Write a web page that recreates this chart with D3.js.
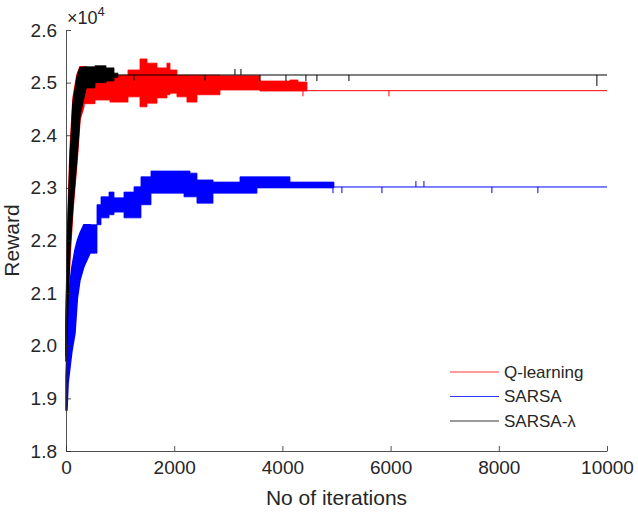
<!DOCTYPE html>
<html>
<head>
<meta charset="utf-8">
<script src="https://cdn.jsdelivr.net/npm/d3@7"></script>
<style>
  body { margin: 0; background: #fff; }
  svg { font-family: Arial, "Liberation Sans", sans-serif; }
</style>
</head>
<body>
<svg id="chart" width="638" height="515"></svg>
<script>
// x ticks and y ticks
const xTicks = [0, 2000, 4000, 6000, 8000, 10000];
const yTicks = [18000, 19000, 20000, 21000, 22000, 23000, 24000, 25000, 26000];

// rising part of each run: [iteration, high, low]
const qRise = [[0, 20600, 19800], [37, 22500, 20800], [74, 23700, 21700], [129, 24700, 22600], [203, 25150, 23500], [259, 25300, 24300], [330, 25300, 24550]];
const sarsaRise = [[0, 19400, 18780], [18, 19920, 18780], [40, 20700, 19300], [74, 21190, 19600], [110, 21500, 19900], [166, 21820, 20240],
  [210, 22000, 20900], [259, 22140, 21250], [330, 22300, 21500], [444, 22300, 21760]];
const lambdaRise = [[0, 20400, 19700], [37, 22300, 20900], [74, 23500, 21900], [129, 24600, 22700], [203, 25100, 23600], [259, 25280, 24400], [370, 25300, 24900]];

// oscillating band: [iteration, high, low] held until next entry
const qBand = [[330, 25280, 24600], [536, 25240, 24670], [813, 25140, 24630], [1146, 25240, 24730], [1368, 25450, 24540], [1497, 25370, 24610],
  [1682, 25280, 24710], [1866, 25370, 24770], [1922, 25240, 24800], [2051, 25140, 24730], [2236, 25140, 24630], [2421, 25140, 24770],
  [2846, 25130, 24860], [3585, 25030, 24840], [4140, 25050, 24840], [4287, 25010, 24840], [4454, 25010, 24840]];
const sarsaBand = [[444, 22300, 21760], [573, 22680, 22300], [647, 22830, 22430], [795, 22920, 22490], [887, 22810, 22540], [1072, 22920, 22430],
  [1257, 23020, 22430], [1386, 23210, 22680], [1571, 23320, 22900], [2181, 23320, 22830], [2292, 23280, 22830], [2421, 23150, 22710],
  [2717, 23110, 22900], [3216, 23210, 22900], [3530, 23210, 23000], [4140, 23110, 23000], [4953, 23110, 23000]];
const lambdaBand = [[370, 25300, 24900], [536, 25320, 25000], [740, 25280, 25030], [887, 25180, 25100], [960, 25180, 25100]];

// settled value and where it starts
const qFinal = [4454, 24847];
const sarsaFinal = [4953, 23017];
const lambdaFinal = [887, 25145];

// single spikes off the settled line: [iteration, value]
const qSpikes = [[4380, 24740], [5970, 24740]];
const sarsaSpikes = [[4935, 22900], [5100, 22900], [5840, 22900], [7872, 22900], [8722, 22900], [6468, 23130], [6616, 23130]];
const lambdaSpikes = [[1257, 25040], [2569, 25040], [3123, 25260], [3234, 25260], [3585, 25030], [4066, 25030], [4435, 25030], [4638, 25030], [5230, 25030], [9813, 24936]];

const series = [
  { name: "Q-learning", color: "#ff0000", rise: qRise, band: qBand, fin: qFinal, spikes: qSpikes },
  { name: "SARSA", color: "#0000ff", rise: sarsaRise, band: sarsaBand, fin: sarsaFinal, spikes: sarsaSpikes },
  { name: "SARSA-\u03bb", color: "#000000", rise: lambdaRise, band: lambdaBand, fin: lambdaFinal, spikes: lambdaSpikes }
];

const svg = d3.select("#chart");
const L = 66, R = 607, T = 30, B = 451;

const x = d3.scaleLinear().domain([0, 10000]).range([L, R]);
const y = d3.scaleLinear().domain([18000, 26000]).range([B, T]);

const riseArea = d3.area()
  .x(d => x(d[0])).y0(d => y(d[2])).y1(d => y(d[1]));
const bandArea = d3.area()
  .x(d => x(d[0])).y0(d => y(d[2])).y1(d => y(d[1]))
  .curve(d3.curveStepAfter);

const plot = svg.append("g");

series.forEach(s => {
  const g = plot.append("g");
  g.append("path")
    .attr("d", riseArea(s.rise))
    .attr("fill", s.color)
    .attr("stroke", s.color)
    .attr("stroke-width", 1.5);
  g.append("path")
    .attr("d", bandArea(s.band))
    .attr("fill", s.color)
    .attr("stroke", s.color)
    .attr("stroke-width", 0.8);
  g.append("line")
    .attr("x1", x(s.fin[0])).attr("x2", x(10000))
    .attr("y1", y(s.fin[1])).attr("y2", y(s.fin[1]))
    .attr("stroke", s.color)
    .attr("stroke-width", 1);
  g.selectAll(".spike")
    .data(s.spikes)
    .join("line")
    .attr("x1", d => x(d[0])).attr("x2", d => x(d[0]))
    .attr("y1", y(s.fin[1])).attr("y2", d => y(d[1]))
    .attr("stroke", s.color)
    .attr("stroke-width", 1);
});

// black run sits on top
plot.selectAll("g").filter((d, i) => i === 2).raise();

const axisColor = "#262626";

const xAxis = svg.append("g")
  .attr("transform", `translate(0,${B})`)
  .call(d3.axisBottom(x).tickValues(xTicks).tickSizeInner(-5).tickSizeOuter(0).tickPadding(10).tickFormat(d3.format("d")));
const yAxis = svg.append("g")
  .attr("transform", `translate(${L},0)`)
  .call(d3.axisLeft(y).tickValues(yTicks).tickSizeInner(-5).tickSizeOuter(0).tickPadding(9).tickFormat(d => (d / 10000).toFixed(1)));

[xAxis, yAxis].forEach(a => {
  a.select(".domain").attr("stroke", axisColor).attr("stroke-width", 0.8);
  a.selectAll(".tick line").attr("stroke", axisColor).attr("stroke-width", 0.8);
  a.selectAll(".tick text").attr("fill", axisColor).style("font-size", "19px");
});

// exponent label
const expo = svg.append("text")
  .attr("x", 67).attr("y", 24)
  .attr("fill", axisColor)
  .style("font-size", "18px");
expo.append("tspan").text("\u00d710");
expo.append("tspan").attr("dy", -8).style("font-size", "13px").text("4");

svg.append("text")
  .attr("x", (L + R) / 2).attr("y", 505)
  .attr("text-anchor", "middle")
  .attr("fill", axisColor)
  .style("font-size", "21px")
  .text("No of iterations");

svg.append("text")
  .attr("transform", `translate(19,${(T + B) / 2}) rotate(-90)`)
  .attr("text-anchor", "middle")
  .attr("fill", axisColor)
  .style("font-size", "21px")
  .text("Reward");

// legend
const legend = svg.append("g").attr("transform", "translate(450,372)");
series.forEach((s, i) => {
  const row = legend.append("g").attr("transform", `translate(0,${i * 24.5})`);
  row.append("line")
    .attr("x1", 0).attr("x2", 49)
    .attr("stroke", s.color).attr("stroke-width", 0.8);
  row.append("text")
    .attr("x", 54).attr("dy", "0.35em")
    .attr("fill", axisColor)
    .style("font-size", "17px")
    .text(s.name);
});
</script>
</body>
</html>
